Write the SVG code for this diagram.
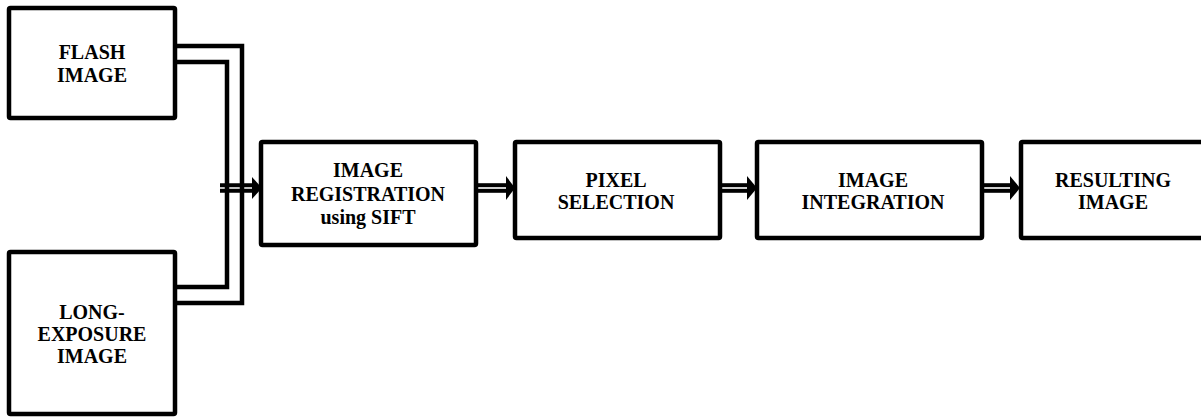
<svg xmlns="http://www.w3.org/2000/svg" width="1201" height="418" viewBox="0 0 1201 418">
<style>
.box{fill:#fff;stroke:#000;stroke-width:4.5;stroke-linejoin:round}
.lbl{font-family:"Liberation Serif","Times New Roman",serif;font-weight:bold;font-size:20px;text-anchor:middle;fill:#000}
.wire{fill:none;stroke:#000;stroke-width:4.5;stroke-linejoin:miter}
.shaft{stroke:#000;stroke-width:4;fill:none}
.head{fill:#000}
</style>
<rect width="1201" height="418" fill="#fff"/>
<g id="connectors">
<path class="wire" d="M175,46 H242 V303 H175"/>
<path class="wire" d="M175,62 H227 V287 H175"/>
<g id="arrow1">
<line class="shaft" x1="220" y1="185.2" x2="254" y2="185.2"/>
<line class="shaft" x1="220" y1="190.8" x2="254" y2="190.8"/>
<polygon class="head" points="252,177 262,188 252,199"/>
</g>
<g id="arrow2">
<line class="shaft" x1="477" y1="185.2" x2="508" y2="185.2"/>
<line class="shaft" x1="477" y1="190.8" x2="508" y2="190.8"/>
<polygon class="head" points="506,176 515,188 506,200"/>
</g>
<g id="arrow3">
<line class="shaft" x1="720" y1="185.2" x2="749" y2="185.2"/>
<line class="shaft" x1="720" y1="190.8" x2="749" y2="190.8"/>
<polygon class="head" points="747,176 757,188 747,200"/>
</g>
<g id="arrow4">
<line class="shaft" x1="982" y1="185.2" x2="1012" y2="185.2"/>
<line class="shaft" x1="982" y1="190.8" x2="1012" y2="190.8"/>
<polygon class="head" points="1010,176 1020,188 1010,200"/>
</g>
</g>
<g id="flash">
<rect class="box" x="9" y="8" width="166" height="110" rx="1.5"/>
<text class="lbl" x="92" y="59">FLASH</text>
<text class="lbl" x="92" y="82">IMAGE</text>
</g>
<g id="long-exposure">
<rect class="box" x="9" y="252" width="166" height="162" rx="1.5"/>
<text class="lbl" x="92" y="319">LONG-</text>
<text class="lbl" x="92" y="341">EXPOSURE</text>
<text class="lbl" x="92" y="363">IMAGE</text>
</g>
<g id="registration">
<rect class="box" x="261" y="142" width="215" height="103" rx="1.5"/>
<text class="lbl" x="368" y="177">IMAGE</text>
<text class="lbl" x="368" y="201">REGISTRATION</text>
<text class="lbl" x="368" y="224">using SIFT</text>
</g>
<g id="pixel-selection">
<rect class="box" x="515" y="142" width="205" height="96" rx="1.5"/>
<text class="lbl" x="616" y="187">PIXEL</text>
<text class="lbl" x="616" y="209">SELECTION</text>
</g>
<g id="integration">
<rect class="box" x="757" y="142" width="225" height="96" rx="1.5"/>
<text class="lbl" x="873" y="187">IMAGE</text>
<text class="lbl" x="873" y="209">INTEGRATION</text>
</g>
<g id="resulting">
<rect class="box" x="1021" y="142" width="190" height="96" rx="1.5"/>
<text class="lbl" x="1113" y="187">RESULTING</text>
<text class="lbl" x="1113" y="209">IMAGE</text>
</g>
</svg>
